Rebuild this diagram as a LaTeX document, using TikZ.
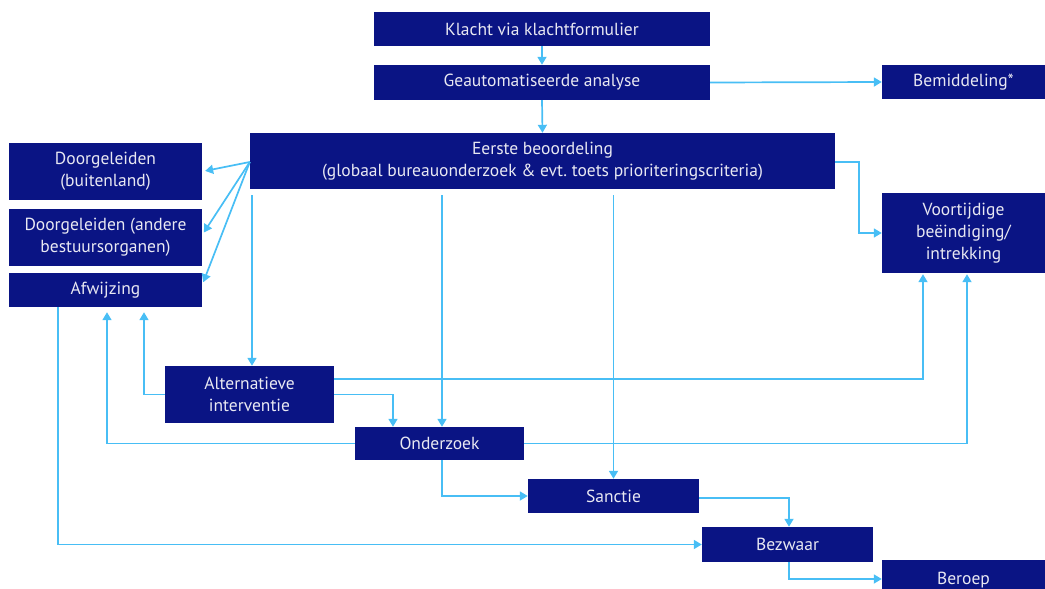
\documentclass[tikz,border=0pt]{standalone}
\usepackage{fontspec}
\setmainfont{PT Sans}
\usetikzlibrary{arrows.meta}
\definecolor{navy}{RGB}{10,20,132}
\definecolor{sky}{RGB}{72,190,245}
\definecolor{boxtext}{RGB}{232,232,242}
\begin{document}
\begin{tikzpicture}[x=1pt,y=-1pt,
  box/.style={fill=navy, text=boxtext, draw=none, inner sep=0pt, align=center,
    font=\fontsize{17.5}{22}\selectfont},
  conn/.style={draw=sky, line width=1.7pt, line join=miter,
    -{Triangle[length=8pt,width=9pt]}},
]
\useasboundingbox (0,0) rectangle (1045,589);
\clip (0,0) rectangle (1045,589);

\node[box, minimum width=336, minimum height=34] (klacht) at (542,29) {Klacht via klachtformulier};
\node[box, minimum width=336, minimum height=35] (geaut) at (542,82.5) {Geautomatiseerde analyse};
\node[box, minimum width=163, minimum height=34] (bemid) at (963.5,82) {Bemiddeling*};
\node[box, minimum width=585, minimum height=56] (eerste) at (542.5,161) {Eerste beoordeling\\(globaal bureauonderzoek \& evt.\ toets prioriteringscriteria)};
\node[box, minimum width=193, minimum height=57] (door1) at (105.5,171.5) {Doorgeleiden\\(buitenland)};
\node[box, minimum width=193, minimum height=57] (door2) at (105.5,237.5) {Doorgeleiden (andere\\bestuursorganen)};
\node[box, minimum width=193, minimum height=34] (afw) at (105.5,290) {Afwijzing};
\node[box, minimum width=163, minimum height=80] (voort) at (963.5,233) {Voortijdige\\beëindiging/\\intrekking};
\node[box, minimum width=169, minimum height=57] (alt) at (249.5,394.5) {Alternatieve\\interventie};
\node[box, minimum width=169, minimum height=33] (onderz) at (439.5,443.5) {Onderzoek};
\node[box, minimum width=171, minimum height=34] (sanctie) at (613.5,496) {Sanctie};
\node[box, minimum width=171, minimum height=35] (bezwaar) at (787.5,544.5) {Bezwaar};
\node[box, minimum width=163, minimum height=38, text depth=0pt] (beroep) at (963.5,579) {\raisebox{1pt}{Beroep}};

% top chain
\draw[conn] (klacht.south) -- (geaut.north);
\draw[conn] (geaut.south) -- (eerste.north);
\draw[conn] (geaut.east) -- (bemid.west);

% fan to the left
\draw[conn, shorten >=3pt] ([yshift=-1pt]eerste.west) -- (door1.east);
\draw[conn, shorten >=3pt] ([yshift=-1pt]eerste.west) -- ([yshift=2.5pt]door2.east);
\draw[conn, shorten >=3pt] ([yshift=-1pt]eerste.west) -- ([yshift=5pt]afw.east);

% verticals from Eerste beoordeling
\draw[conn, shorten <=6pt] ([xshift=2.5pt]alt.north |- eerste.south) -- ([xshift=2.5pt]alt.north);
\draw[conn, shorten <=6pt] ([xshift=2.5pt]onderz.north |- eerste.south) -- ([xshift=2.5pt]onderz.north);
\draw[conn, shorten <=6pt] (sanctie.north |- eerste.south) -- (sanctie.north);

% Eerste -> Voortijdige
\draw[conn] ([yshift=-1pt]eerste.east) -- ++(24,0) |- (voort.west);

% Alternatieve interventie
\draw[conn, shorten >=5pt] (alt.west) -| ([xshift=38.5pt]afw.south);
\draw[conn, shorten >=1pt] ([yshift=15.5pt]alt.east) -| ([xshift=-40.5pt]voort.south);
\draw[conn] (alt.east) -| ([xshift=-46.5pt]onderz.north);

% Onderzoek
\draw[conn, shorten >=5pt] (onderz.west) -| ([xshift=1.5pt]afw.south);
\draw[conn, shorten >=1pt] (onderz.east) -| ([xshift=3.5pt]voort.south);
\draw[conn] ([xshift=2.5pt]onderz.south) |- (sanctie.west);

% Afwijzing -> Bezwaar
\draw[conn] ([xshift=-47.5pt]afw.south) |- (bezwaar.west);

% Sanctie -> Bezwaar -> Beroep
\draw[conn] ([yshift=-2pt]sanctie.east) -| ([xshift=1.5pt]bezwaar.north);
\draw[conn] ([xshift=1.5pt]bezwaar.south) |- (beroep.west);
\end{tikzpicture}
\end{document}
